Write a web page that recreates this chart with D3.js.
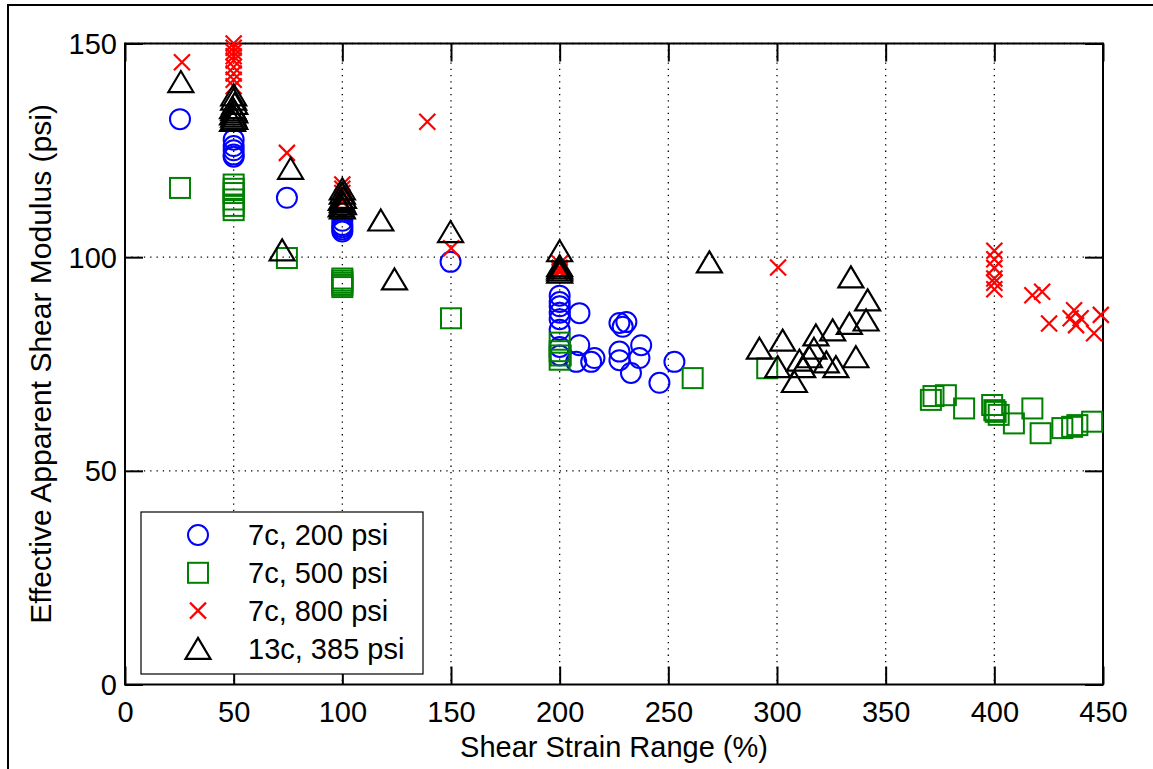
<!DOCTYPE html>
<html>
<head>
<meta charset="utf-8">
<script src="https://cdn.jsdelivr.net/npm/d3@7"></script>
<style>
  html, body { margin: 0; padding: 0; background: #fff; }
  svg { display: block; }
  text { font-family: "Liberation Sans", Arial, sans-serif; fill: #000; }
</style>
</head>
<body>
<svg id="chart" width="1153" height="769"></svg>
<script>
// Shear strain range (%) vs. effective apparent shear modulus (psi), per test series
const series200 = [
  [25.3,132.3],
  [50,127.5],[50,126],[50,125],[50,124],[50,123.5],
  [74.5,113.9],
  [100,108.5],[100,107.5],[100,107],[100,106.5],[100,106],
  [149.8,98.9],
  [200,91],[200,89.5],[200,88.5],[200,87],[200,85.5],[200,83],[200,79],[200,77],
  [209.1,86.9],[209,79.4],[207.6,75.5],[216,76.4],[214.5,75.5],[227.5,84.6],[229,83.7],
  [230.7,84.8],[227.5,77.9],[227.5,75.9],[237.5,79.4],[236.7,76.4],[232.8,72.9],
  [245.9,70.6],[252.8,75.5]
];
const series500 = [
  [25.3,116.2],
  [50,117],[50,116],[50,115],[50,113.5],[50,112],[50,111],
  [74.5,99.8],
  [100,95],[100,94.5],[100,94],[100,93.5],[100,93],
  [150,85.7],
  [200,80],[200,78],[200.5,77],[200,76],
  [261.2,71.7],[295.5,74],
  [370.8,66.6],[372,67.5],[377.7,67.7],[386.1,64.6],[399,65.4],[400.6,63.8],[402,63.1],
  [400,64.2],[409,61.1],[417.5,64.6],[421.3,58.8],[431.3,60],[435.8,60.3],[438.2,60.7],
  [445,61.5]
];
const series800 = [
  [26.2,145.6],
  [50,150],[50,149],[50,148],[50,147],[50,146],[50,144.5],[50,143],[50,141.5],[50,140],
  [74.5,124.4],
  [100,117],[100,116],[100,115],[100,114],[100,113],
  [139.1,131.7],[150.1,102.1],
  [200,98.5],[200,97.5],[200,97],[200,96.5],
  [300.5,97.6],
  [400,101.5],[400,99.5],[400,97.5],[400,95],[400,94],[400,92.5],
  [417.5,91.1],[422,91.9],[425.2,84.5],[436.7,87.6],[435.1,85.7],[437.6,84.1],
  [439.7,85.7],[445.9,82.2],[449,86.5]
];
const series385 = [
  [25.7,141.1],
  [50,138],[50,137],[50.5,136],[49.5,135],[50,134.5],[50.5,134],[49.5,133.5],[50,133],[50.5,132.5],[49.5,132],
  [76.2,120.8],[72.3,101.7],
  [100,116],[100,115],[100.5,114],[99.5,113.5],[100,113],[100.5,112.5],[99.5,112],[100,111.5],
  [117.7,108.7],[124,94.9],[149.8,106],
  [200,101.5],[200,98],[200,97.5],[200,97],[200,96.5],
  [268.9,98.9],
  [291.9,78.7],[302.6,80.6],[300.3,74.4],[308,70.9],[310.3,75.9],[314.9,76.7],[311.8,74.4],
  [317,78.7],[317.9,81.8],[322.7,75.5],[325.6,83],[327.1,74.4],[333.3,84.5],[334,95.4],
  [336.3,76.7],[341.7,90],[341,85.3]
];

const xTicks = [0, 50, 100, 150, 200, 250, 300, 350, 400, 450];
const yTicks = [0, 50, 100, 150];
const legendLabels = ["7c, 200 psi", "7c, 500 psi", "7c, 800 psi", "13c, 385 psi"];
const xTitle = "Shear Strain Range (%)";
const yTitle = "Effective Apparent Shear Modulus (psi)";

const svg = d3.select("#chart");
const W = 1153, H = 769;
const plot = { left: 125, right: 1103, top: 43.5, bottom: 684.5 };
const fontSize = 29;

const x = d3.scaleLinear().domain([0, 450]).range([plot.left, plot.right]);
const y = d3.scaleLinear().domain([0, 150]).range([plot.bottom, plot.top]);

// outer figure frame
svg.append("rect")
  .attr("x", 8).attr("y", 5).attr("width", W + 20).attr("height", H + 20)
  .attr("fill", "#fff").attr("stroke", "#000").attr("stroke-width", 2);

// dotted grid
const grid = svg.append("g").attr("stroke", "#000").attr("stroke-width", 1.3)
  .attr("stroke-dasharray", "1.3,5");
grid.selectAll(".gx").data(xTicks.slice(1, -1)).join("line")
  .attr("x1", d => x(d)).attr("x2", d => x(d))
  .attr("y1", plot.top).attr("y2", plot.bottom);
grid.selectAll(".gy").data(yTicks.slice(1)).join("line")
  .attr("x1", plot.left).attr("x2", plot.right)
  .attr("y1", d => y(d)).attr("y2", d => y(d));

// axes: bottom/left with labels, top/right mirrored ticks; ticks point inward
const tickLen = 18;
const axB = svg.append("g").attr("transform", `translate(0,${plot.bottom})`)
  .call(d3.axisBottom(x).tickValues(xTicks).tickSize(-tickLen).tickFormat(d3.format("d")));
const axT = svg.append("g").attr("transform", `translate(0,${plot.top})`)
  .call(d3.axisTop(x).tickValues(xTicks).tickSize(-tickLen).tickFormat(""));
const axL = svg.append("g").attr("transform", `translate(${plot.left},0)`)
  .call(d3.axisLeft(y).tickValues(yTicks).tickSize(-tickLen).tickFormat(d3.format("d")));
const axR = svg.append("g").attr("transform", `translate(${plot.right},0)`)
  .call(d3.axisRight(y).tickValues(yTicks).tickSize(-tickLen).tickFormat(""));
[axB, axT, axL, axR].forEach(a => {
  a.select(".domain").remove();
  a.selectAll(".tick line").attr("stroke", "#000").attr("stroke-width", 2);
  a.selectAll(".tick text").attr("font-size", fontSize)
    .attr("font-family", "'Liberation Sans', Arial, sans-serif").attr("fill", "#000");
});
axB.selectAll(".tick text").attr("dy", "0.35em").attr("y", 27);
axL.selectAll(".tick text").attr("x", -8).attr("dy", "0.35em");

// plot box
svg.append("rect")
  .attr("x", plot.left).attr("y", plot.top)
  .attr("width", plot.right - plot.left).attr("height", plot.bottom - plot.top)
  .attr("fill", "none").attr("stroke", "#000").attr("stroke-width", 2);

// marker painters
const markers = {
  circle: (g, color) => g.append("circle").attr("r", 10)
    .attr("fill", "none").attr("stroke", color).attr("stroke-width", 2),
  square: (g, color) => g.append("rect").attr("x", -10).attr("y", -10)
    .attr("width", 20).attr("height", 20)
    .attr("fill", "none").attr("stroke", color).attr("stroke-width", 2),
  cross: (g, color) => g.append("path").attr("d", "M-8,-8L8,8M-8,8L8,-8")
    .attr("fill", "none").attr("stroke", color).attr("stroke-width", 2.2),
  triangle: (g, color) => g.append("path").attr("d", "M0,-10.5L12.5,10.5L-12.5,10.5Z")
    .attr("fill", "none").attr("stroke", color).attr("stroke-width", 2.2)
    .attr("stroke-linejoin", "miter")
};

const seriesList = [
  { data: series200, color: "#0000ff", shape: "circle" },
  { data: series500, color: "#008000", shape: "square" },
  { data: series800, color: "#ff0000", shape: "cross" },
  { data: series385, color: "#000000", shape: "triangle" }
];

const pts = svg.append("g");
seriesList.forEach(s => {
  pts.append("g").selectAll("g").data(s.data).join("g")
    .attr("transform", d => `translate(${x(d[0])},${y(d[1])})`)
    .each(function () { markers[s.shape](d3.select(this), s.color); });
});

// legend
const lg = svg.append("g");
lg.append("rect").attr("x", 141).attr("y", 512).attr("width", 282).attr("height", 162)
  .attr("fill", "#fff").attr("stroke", "#000").attr("stroke-width", 1.2);
seriesList.forEach((s, i) => {
  const cy = 535 + i * 37.8;
  const g = lg.append("g").attr("transform", `translate(198,${cy})`);
  markers[s.shape](g, s.color);
  lg.append("text").attr("x", 248).attr("y", cy).attr("dy", "0.36em")
    .attr("font-size", fontSize).text(legendLabels[i]);
});

// axis titles
svg.append("text").attr("x", (plot.left + plot.right) / 2).attr("y", 757)
  .attr("text-anchor", "middle").attr("font-size", fontSize).text(xTitle);
svg.append("text").attr("transform", `translate(51,${(plot.top + plot.bottom) / 2}) rotate(-90)`)
  .attr("text-anchor", "middle").attr("font-size", 30).text(yTitle);
</script>
</body>
</html>
